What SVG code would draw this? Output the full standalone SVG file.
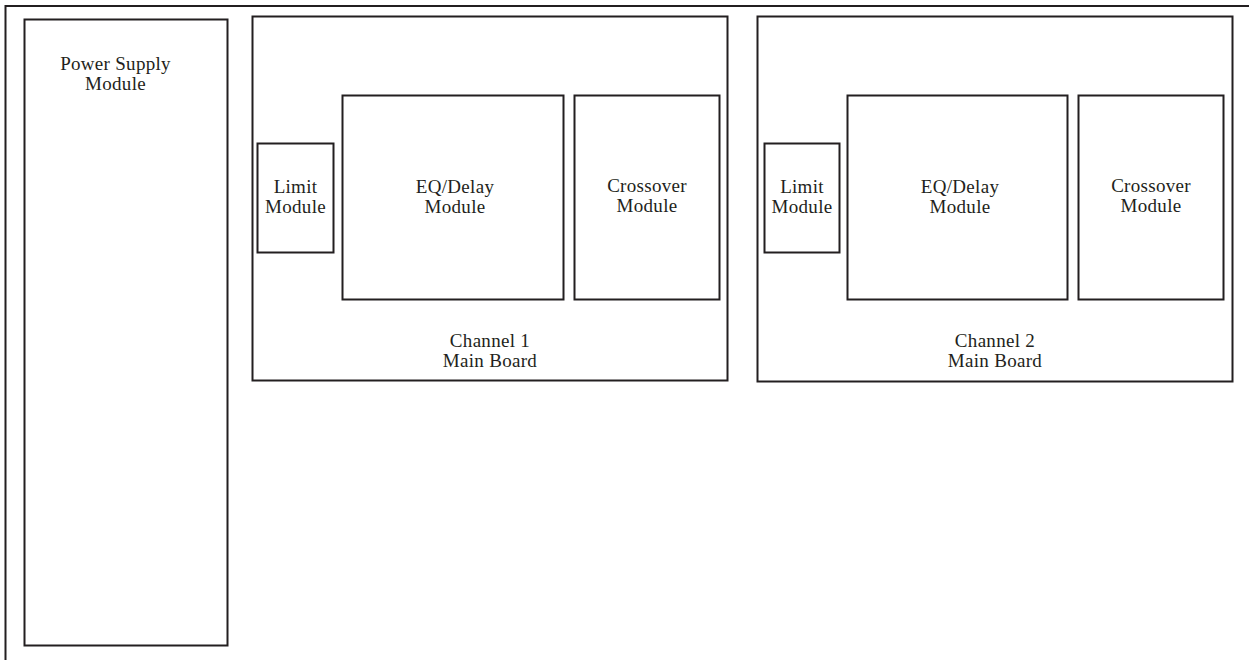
<svg xmlns="http://www.w3.org/2000/svg" width="1249" height="660" viewBox="0 0 1249 660">
<style>
.box{fill:none;stroke:#231f20;stroke-width:2}
.t{font-family:"Liberation Serif","Times New Roman",serif;font-size:19px;letter-spacing:0.3px;fill:#231f20;text-anchor:middle}
</style>
<rect width="1249" height="660" fill="#fff"/>
<g id="frame"><path class="box" d="M5.5,660 V6 H1249"/></g>
<g id="power-supply">
<rect class="box" x="24.5" y="19.5" width="203" height="626"/>
<text class="t" x="115.5" y="70">Power Supply</text>
<text class="t" x="115.5" y="90">Module</text>
</g>
<g id="channel1">
<rect class="box" x="252.5" y="16.5" width="475" height="364"/>
<text class="t" x="490" y="347">Channel 1</text>
<text class="t" x="490" y="367">Main Board</text>
</g>
<g id="limit1">
<rect class="box" x="257.5" y="143.5" width="76" height="109"/>
<text class="t" x="295.5" y="193">Limit</text>
<text class="t" x="295.5" y="213">Module</text>
</g>
<g id="eq1">
<rect class="box" x="342.5" y="95.5" width="221" height="204"/>
<text class="t" x="455" y="193">EQ/Delay</text>
<text class="t" x="455" y="213">Module</text>
</g>
<g id="crossover1">
<rect class="box" x="574.5" y="95.5" width="145" height="204"/>
<text class="t" x="647" y="192">Crossover</text>
<text class="t" x="647" y="212">Module</text>
</g>
<g id="channel2">
<rect class="box" x="757.5" y="16.5" width="475" height="365"/>
<text class="t" x="995" y="347">Channel 2</text>
<text class="t" x="995" y="367">Main Board</text>
</g>
<g id="limit2">
<rect class="box" x="764.5" y="143.5" width="75" height="109"/>
<text class="t" x="802" y="193">Limit</text>
<text class="t" x="802" y="213">Module</text>
</g>
<g id="eq2">
<rect class="box" x="847.5" y="95.5" width="220" height="204"/>
<text class="t" x="960" y="193">EQ/Delay</text>
<text class="t" x="960" y="213">Module</text>
</g>
<g id="crossover2">
<rect class="box" x="1078.5" y="95.5" width="145" height="204"/>
<text class="t" x="1151" y="192">Crossover</text>
<text class="t" x="1151" y="212">Module</text>
</g>
<g id="connectors"></g>
</svg>
